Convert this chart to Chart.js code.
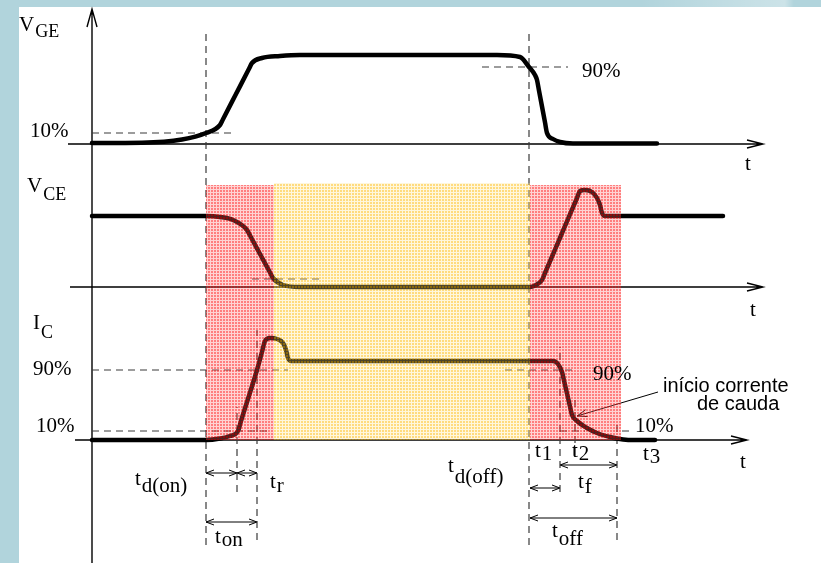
<!DOCTYPE html>
<html>
<head>
<meta charset="utf-8">
<script src="https://cdn.jsdelivr.net/npm/chart.js@4.4.0/dist/chart.umd.min.js"></script>
<style>
  html, body { margin: 0; padding: 0; background: #b1d4dc; }
  canvas { display: block; }
</style>
</head>
<body>
<canvas id="chart" width="821" height="563"></canvas>
<script>
/* Formas de onda de comutação do IGBT (VGE, VCE, IC)
   eixo x: tempo (t = 0 no eixo vertical), eixo y: unidades verticais (0 em baixo) */

// linhas de base de cada traço
const baseVGE = 419, baseVCE = 276, baseIC = 123;

// VGE
const vgeT = [0, 50, 90, 114, 128, 131, 144, 157, 160, 170, 188, 208, 405, 428, 437, 443, 445, 447, 453, 455, 461, 468, 481, 565];
const vgeV = [1, 1.3, 4.5, 11, 19, 24.8, 50, 75.2, 81, 86, 88, 89, 89, 87, 77, 69, 64, 53.4, 21.6, 11, 5, 2, 0.5, 0.5];

// VCE
const vceT = [0, 114, 128, 141, 155, 158, 168, 178, 181, 191, 208, 438, 443, 450, 453, 469, 485, 488, 493, 500, 505, 508, 510, 513, 631];
const vceV = [71, 71, 70, 67, 57, 51.5, 33, 14.5, 9, 2, 0, 0, 1.5, 7, 14, 51.5, 89, 96, 97, 95, 89, 82, 74, 71, 71];

// IC
const icT = [0, 114, 128, 138, 146, 149, 165, 170, 173, 178, 185, 191, 194, 196, 199, 438, 461, 466, 470, 472, 478, 480, 485, 495, 505, 518, 528, 538, 563];
const icV = [0, 0, 1.5, 4, 9, 19, 70, 88, 99, 102, 101, 97, 90, 82, 79, 79, 79, 76, 68, 59.4, 33.6, 25, 19, 12, 7, 3, 1, 0, 0];

// regiões sombreadas [t0, t1, topo, base]
const shadeRed = [[114, 182, 378, 123], [438, 529, 378, 123]];
const shadeYellow = [[182, 438, 380, 123]];

// linhas tracejadas: horizontais [y, t0, t1], verticais [t, y0, y1]
const guideH = [[430, 0, 144], [496, 390, 476], [284, 160, 230], [193, 0, 196], [193, 413, 483],
                [132, 0, 175], [132, 468, 493], [132, 530, 541]];
const guideV = [[114, 18, 530], [437, 18, 532], [145, 71, 156], [165, 23, 233],
                [468, 71, 216], [483, 108, 163], [525, 23, 140]];

// eixos: horizontais [y, t0, t1], vertical [t, y0, y1]
const axesH = [[419, -24, 671], [276, -22, 671], [123, -17, 655]];
const axisV = [0, 0, 554];

// cotas (setas duplas) [y, t0, t1]
const dimArrows = [[90, 114, 145], [90, 145, 165], [41, 114, 165], [75, 438, 468], [98, 468, 525], [45, 438, 525]];
// seta "início corrente de cauda" [de, para]
const callout = [[566, 171], [485, 147]];

// textos [t, y, texto, subscrito, descida do subscrito, tamanho]
const labels = [
  [-73, 532, 'V', 'GE', 6, 18],
  [-65, 371, 'V', 'CE', 8, 18],
  [-59, 234, 'I', 'C', 9, 18],
  [-62, 426, '10%', '', 0, 0],
  [490, 486, '90%', '', 0, 0],
  [653, 393, 't', '', 0, 0],
  [658, 247, 't', '', 0, 0],
  [648, 95, 't', '', 0, 0],
  [-59, 188, '90%', '', 0, 0],
  [-56, 131, '10%', '', 0, 0],
  [43, 78, 't', 'd(on)', 7, 21],
  [178, 75, 't', 'r', 4, 21],
  [123, 20, 't', 'on', 3, 21],
  [356, 91, 't', 'd(off)', 11, 21],
  [443, 106, 't', '1', 3, 21],
  [480, 106, 't', '2', 3, 21],
  [551, 103, 't', '3', 3, 21],
  [486, 75, 't', 'f', 5, 21],
  [460, 26, 't', 'off', 8, 21],
  [501, 183, '90%', '', 0, 0],
  [543, 131, '10%', '', 0, 0]
];
const notes = [[571, 171, 'início corrente'], [605, 153, 'de cauda']];

/* ------- helpers ------- */
const zip = (ts, vs, base) => ts.map((t, i) => ({ x: t, y: base + vs[i] }));

function polylines(list) {
  const pts = [];
  list.forEach(line => {
    line.forEach(p => pts.push({ x: p[0], y: p[1] }));
    pts.push({ x: line[line.length - 1][0], y: null });
  });
  return pts;
}

function head(tip, from, len, w) {
  const dx = tip[0] - from[0], dy = tip[1] - from[1];
  const L = Math.hypot(dx, dy), ux = dx / L, uy = dy / L;
  return [[tip[0] - ux * len - uy * w, tip[1] - uy * len + ux * w], tip,
          [tip[0] - ux * len + uy * w, tip[1] - uy * len - ux * w]];
}

function makePattern(lineCol, fillCol) {
  const c = document.createElement('canvas');
  c.width = 3; c.height = 3;
  const g = c.getContext('2d');
  for (let i = 0; i < 3; i++) for (let j = 0; j < 3; j++) {
    g.fillStyle = (i === 0 || j === 0) ? lineCol : fillCol;
    g.fillRect(i, j, 1, 1);
  }
  return g.createPattern(c, 'repeat');
}

const redPat = makePattern('rgba(255,110,110,0.3)', 'rgba(255,20,20,0.55)');
const yelPat = makePattern('rgba(255,230,140,0.3)', 'rgba(255,190,20,0.55)');

function shadeSets(list, pat) {
  return list.map(r => ({
    data: [{ x: r[0], y: r[2] }, { x: r[1], y: r[2] }],
    fill: { value: r[3] }, backgroundColor: pat, borderWidth: 0, tension: 0
  }));
}

/* ------- geometria ------- */
const dashed = polylines([
  ...guideH.map(g => [[g[1], g[0]], [g[2], g[0]]]),
  ...guideV.map(g => [[g[0], g[1]], [g[0], g[2]]])
]);

const axisLines = [
  ...axesH.map(a => [[a[1], a[0]], [a[2], a[0]]]),
  [[axisV[0], axisV[1]], [axisV[0], axisV[2]]],
  ...axesH.map(a => head([a[2], a[0]], [a[1], a[0]], 16, 4)),
  head([axisV[0], axisV[2]], [axisV[0], axisV[1]], 18, 5)
];

const thinLines = [];
dimArrows.forEach(d => {
  const a = [d[1], d[0]], b = [d[2], d[0]];
  thinLines.push([a, b], head(a, b, 8, 3), head(b, a, 8, 3));
});
thinLines.push(callout, head(callout[1], callout[0], 10, 3.5));

const wave = (data) => ({
  data, borderColor: '#000', borderWidth: 4.5, cubicInterpolationMode: 'monotone',
  borderCapStyle: 'round', borderJoinStyle: 'round', fill: false
});

/* ------- plugins ------- */
const frame = {
  id: 'frame',
  beforeDraw(chart) {
    const { ctx, width, height } = chart;
    ctx.save();
    ctx.fillStyle = '#b1d4dc';
    ctx.fillRect(0, 0, width, height);
    const g = ctx.createLinearGradient(640, 0, 821, 0);
    g.addColorStop(0, 'rgba(255,255,255,0)');
    g.addColorStop(0.8, 'rgba(255,255,255,0.35)');
    g.addColorStop(0.85, 'rgba(255,255,255,0)');
    ctx.fillStyle = g;
    ctx.fillRect(640, 0, 181, 7);
    ctx.fillStyle = '#fff';
    ctx.fillRect(19, 7, width - 19, height - 7);
    ctx.restore();
  }
};

const texts = {
  id: 'texts',
  afterDatasetsDraw(chart) {
    const { ctx, scales: { x, y } } = chart;
    ctx.save();
    ctx.fillStyle = '#000';
    ctx.textBaseline = 'alphabetic';
    ctx.textAlign = 'left';
    labels.forEach(([t, v, main, sub, drop, subSize]) => {
      const px = x.getPixelForValue(t), py = y.getPixelForValue(v);
      ctx.font = '21px "Liberation Serif", "Times New Roman", serif';
      ctx.fillText(main, px, py);
      if (sub) {
        const w = ctx.measureText(main).width;
        ctx.font = subSize + 'px "Liberation Serif", "Times New Roman", serif';
        ctx.fillText(sub, px + w + 1, py + drop);
      }
    });
    ctx.font = '20px "Liberation Sans", Arial, sans-serif';
    notes.forEach(([t, v, s]) => ctx.fillText(s, x.getPixelForValue(t), y.getPixelForValue(v)));
    ctx.restore();
  }
};

/* ------- chart ------- */
new Chart(document.getElementById('chart'), {
  type: 'line',
  data: {
    datasets: [
      ...shadeSets(shadeRed, redPat),
      ...shadeSets(shadeYellow, yelPat),
      wave(zip(vgeT, vgeV, baseVGE)),
      wave(zip(vceT, vceV, baseVCE)),
      wave(zip(icT, icV, baseIC)),
      { data: dashed, borderColor: '#3a3a3a', borderWidth: 1.2, borderDash: [7, 5], spanGaps: false, tension: 0 },
      { data: polylines(thinLines), borderColor: '#000', borderWidth: 1, spanGaps: false, tension: 0 },
      { data: polylines(axisLines), borderColor: '#000', borderWidth: 1.4, spanGaps: false, tension: 0 }
    ]
  },
  options: {
    responsive: false,
    animation: false,
    events: [],
    layout: { padding: 0 },
    elements: { point: { radius: 0 } },
    plugins: { legend: { display: false }, tooltip: { enabled: false } },
    scales: {
      x: { type: 'linear', min: -92, max: 729, display: false },
      y: { type: 'linear', min: 0, max: 563, display: false }
    }
  },
  plugins: [frame, texts]
});
</script>
</body>
</html>
